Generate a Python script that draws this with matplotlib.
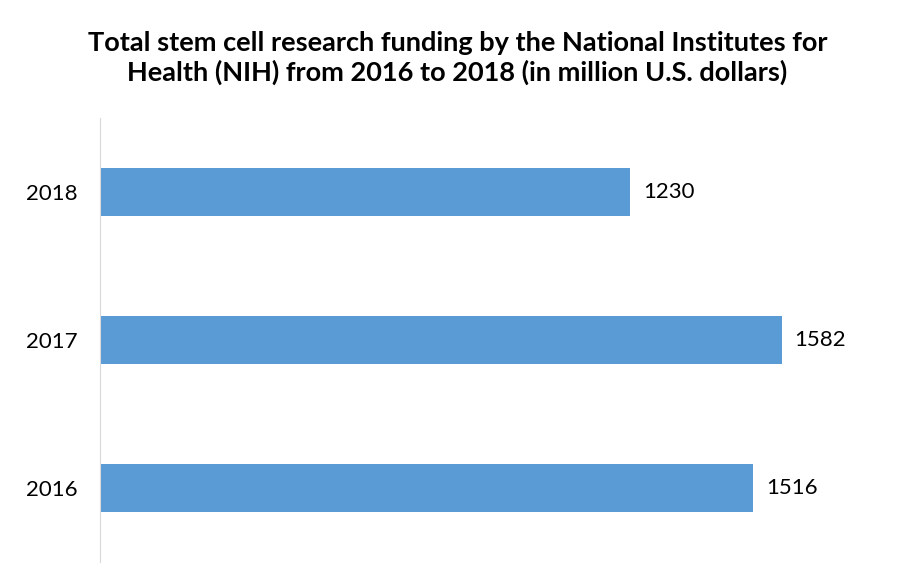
import matplotlib.pyplot as plt

years = ["2016", "2017", "2018"]
funding = [1516, 1582, 1230]

plt.rcParams['font.family'] = ['Lato', 'DejaVu Sans']

fig = plt.figure(figsize=(9.15, 5.86), dpi=100)
ax = fig.add_axes([100 / 915, 1 - 562 / 586, 797 / 915, 444 / 586])

pos = list(range(len(years)))
ax.barh(pos, funding, height=0.32, color='#5B9BD5')
for p, v in zip(pos, funding):
    ax.text(v + 30, p, str(v), va='center', ha='left', fontsize=16, color='black')

ax.set_xlim(0, 1850)
ax.set_ylim(-0.5, 2.5)
ax.set_yticks(pos)
ax.set_yticklabels(years, fontsize=16)
ax.tick_params(axis='y', length=0, pad=16)
ax.set_xticks([])
for side in ['top', 'right', 'bottom']:
    ax.spines[side].set_visible(False)
ax.spines['left'].set_color('#D9D9D9')

fig.text(0.5, 1 - 58 / 586, "Total stem cell research funding by the National Institutes for\n"
         "Health (NIH) from 2016 to 2018 (in million U.S. dollars)",
         ha='center', va='center', fontsize=19.5, fontweight='bold', linespacing=1.2)

fig.savefig('out.png', dpi=100)
